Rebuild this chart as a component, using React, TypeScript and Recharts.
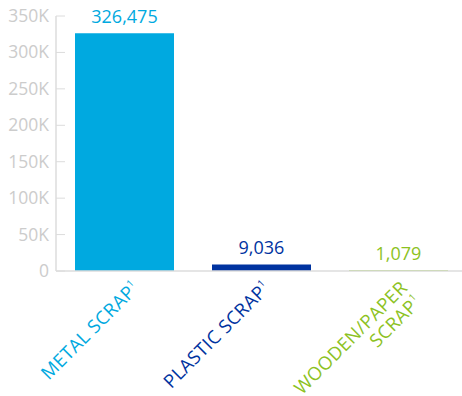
import React from "react";
import { BarChart, Bar, Cell, LabelList, XAxis, YAxis } from "recharts";

const categories = ["METAL SCRAP", "PLASTIC SCRAP", "WOODEN/PAPER\nSCRAP"];
const values = [326475, 9036, 1079];
const colors = ["#00a9e0", "#0033a0", "#8dc21f"];
const yTicks = [0, 50000, 100000, 150000, 200000, 250000, 300000, 350000];

const data = categories.map((name, i) => ({ name, value: values[i], color: colors[i] }));

const FONT = "'Open Sans', sans-serif";

function YTick(props: any) {
	const { y, payload } = props;
	const v = payload.value;
	const label = v === 0 ? "0" : `${v / 1000}K`;
	return (
		<g>
			<line x1={56} x2={65} y1={y} y2={y} stroke="#dcdcdc" strokeWidth={1} />
			<text x={49} y={y} dy={6} textAnchor="end" fill="#cccccc" fontSize={17.5} fontFamily={FONT}>
				{label}
			</text>
		</g>
	);
}

function XTick(props: any) {
	const { x, y, payload, index } = props;
	const lines = String(payload.value).split("\n");
	const color = colors[index] ?? "#999";
	// first label sits a little further right in the original
	const ax = x + (index === 0 ? 16 : 10);
	const ay = y + 10;
	return (
		<g transform={`translate(${ax},${ay}) rotate(-45)`}>
			<text textAnchor="end" fill={color} fontSize={18.5} fontFamily={FONT} letterSpacing={0.4}>
				{lines.map((ln, i) => (
					<tspan key={i} x={0} dy={i === 0 ? 0 : 20}>
						{ln}
						{i === lines.length - 1 ? (
							<tspan fontSize={10} dy={-8}>
								1
							</tspan>
						) : null}
					</tspan>
				))}
			</text>
		</g>
	);
}

function ValueLabel(props: any) {
	const { x, y, width, value, index } = props;
	return (
		<text
			x={x + width / 2}
			y={y - 10}
			textAnchor="middle"
			fill={colors[index]}
			fontSize={18}
			fontFamily={FONT}
		>
			{Number(value).toLocaleString("en-US")}
		</text>
	);
}

export default function App() {
	return (
		<div style={{ position: "absolute", left: 0, top: 0, width: 462, height: 396, overflow: "hidden", background: "#fff" }}>
			<BarChart
				width={470}
				height={396}
				data={data}
				margin={{ top: 16, right: 3, bottom: 0, left: 0 }}
				barCategoryGap={19}
			>
				<XAxis
					dataKey="name"
					interval={0}
					axisLine={{ stroke: "#dcdcdc", strokeWidth: 1.5 }}
					tickLine={false}
					height={125}
					tick={<XTick />}
				/>
				<YAxis
					width={56}
					domain={[0, 350000]}
					ticks={yTicks}
					axisLine={{ stroke: "#dcdcdc", strokeWidth: 1.5 }}
					tickLine={false}
					tick={<YTick />}
				/>
				<Bar dataKey="value" minPointLength={4} isAnimationActive={false}>
					{data.map((d, i) => (
						<Cell key={i} fill={d.color} />
					))}
					<LabelList dataKey="value" content={<ValueLabel />} />
				</Bar>
			</BarChart>
		</div>
	);
}
